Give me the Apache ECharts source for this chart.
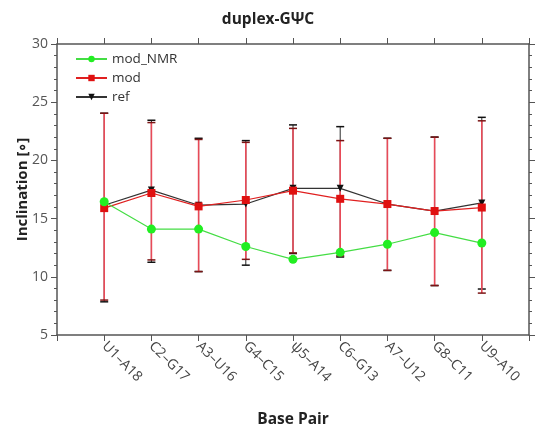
<!DOCTYPE html>
<html>
<head>
<meta charset="utf-8">
<script src="https://cdn.jsdelivr.net/npm/echarts@6/dist/echarts.min.js"></script>
<style>
  html, body { margin: 0; padding: 0; background: #fff; }
  #chart { width: 536px; height: 430px; }
</style>
</head>
<body>
<div id="chart"></div>
<script>
// Base pairs along the duplex
const categories = ['U1–A18', 'C2–G17', 'A3–U16', 'G4–C15', 'ψ5–A14', 'C6–G13', 'A7–U12', 'G8–C11', 'U9–A10'];

// Mean inclination per base pair (degrees)
const modNMR = [16.45, 14.1, 14.1, 12.6, 11.5, 12.1, 12.8, 13.8, 12.9];
const mod    = [15.9, 17.2, 16.05, 16.6, 17.4, 16.7, 16.25, 15.65, 15.95];
const ref    = [16.15, 17.45, 16.15, 16.25, 17.6, 17.6, 16.25, 15.65, 16.35];

// Spread (lower / upper bounds) for the simulated sets
const modLow  = [8.0, 11.45, 10.45, 11.5, 12.05, 11.8, 10.55, 9.25, 8.6];
const modHigh = [24.05, 23.25, 21.8, 21.55, 22.75, 21.7, 21.9, 22.0, 23.4];
const refLow  = [7.85, 11.25, 10.45, 11.0, 12.0, 11.7, 10.55, 9.25, 8.95];
const refHigh = [24.05, 23.45, 21.9, 21.7, 23.05, 22.9, 21.9, 22.0, 23.7];

// Y axis ticks
const yTicks = [5, 10, 15, 20, 25, 30];

// Padded category axis leaves half-open room at each end
const axisCats = [''].concat(categories, ['']);
const named = arr => arr.map((v, i) => [categories[i], v]);
const bars = (lo, hi) => lo.map((v, i) => [categories[i], v, hi[i]]);

function errorBar(lineColor, capColor, width) {
  return function (params, api) {
    const x = api.value(0);
    const lo = api.coord([x, api.value(1)]);
    const hi = api.coord([x, api.value(2)]);
    const half = 4;
    return {
      type: 'group',
      children: [
        { type: 'line', shape: { x1: lo[0], y1: lo[1], x2: hi[0], y2: hi[1] },
          style: { stroke: lineColor, lineWidth: width } },
        { type: 'line', shape: { x1: lo[0] - half, y1: lo[1], x2: lo[0] + half, y2: lo[1] },
          style: { stroke: capColor, lineWidth: 1.5 } },
        { type: 'line', shape: { x1: hi[0] - half, y1: hi[1], x2: hi[0] + half, y2: hi[1] },
          style: { stroke: capColor, lineWidth: 1.5 } }
      ]
    };
  };
}

const axisColor = '#555';
const labelFont = '"Open Sans", "Noto Sans", sans-serif';

const chart = echarts.init(document.getElementById('chart'), null, { renderer: 'canvas' });
chart.setOption({
  animation: false,
  backgroundColor: '#fff',
  textStyle: { fontFamily: labelFont },
  title: {
    text: 'duplex-GΨC',
    left: 'center',
    top: 7,
    textStyle: { fontSize: 15.5, fontWeight: 'bold', color: '#222', fontFamily: labelFont }
  },
  legend: {
    orient: 'vertical',
    left: 70,
    top: 47,
    itemGap: 5,
    itemWidth: 31,
    itemHeight: 8,
    data: ['mod_NMR', 'mod', 'ref'],
    textStyle: { fontSize: 13.5, color: '#333', fontFamily: labelFont }
  },
  grid: { left: 57, right: 7, top: 44, bottom: 95, containLabel: false, outerBoundsMode: 'none' },
  xAxis: [
    {
      type: 'category',
      data: axisCats,
      boundaryGap: false,
      position: 'bottom',
      name: 'Base Pair',
      nameLocation: 'middle',
      nameGap: 77,
      nameMoveOverlap: false,
      nameTextStyle: { fontSize: 15.5, fontWeight: 'bold', color: '#222', fontFamily: labelFont },
      axisLine: { lineStyle: { color: axisColor, width: 1.5 } },
      axisTick: { show: true, length: 6, alignWithLabel: true, interval: 0, lineStyle: { color: axisColor } },
      axisLabel: { rotate: -45, interval: 0, fontSize: 14, color: '#444', margin: 9, fontFamily: labelFont },
      splitLine: { show: false }
    },
    {
      type: 'category',
      data: axisCats,
      boundaryGap: false,
      position: 'top',
      axisLine: { lineStyle: { color: axisColor, width: 1.5 } },
      axisTick: { show: true, length: 6, interval: 0, lineStyle: { color: axisColor } },
      axisLabel: { show: false },
      splitLine: { show: false }
    }
  ],
  yAxis: [
    {
      type: 'value',
      min: yTicks[0],
      max: yTicks[yTicks.length - 1],
      interval: 5,
      position: 'left',
      name: 'Inclination [∘]',
      nameLocation: 'middle',
      nameGap: 27,
      nameMoveOverlap: false,
      nameTextStyle: { fontSize: 15, fontWeight: 'bold', color: '#222', fontFamily: labelFont },
      axisLine: { show: true, lineStyle: { color: axisColor, width: 1.5 } },
      axisTick: { show: true, length: 6, lineStyle: { color: axisColor } },
      minorTick: { show: true, splitNumber: 5, length: 3, lineStyle: { color: axisColor } },
      axisLabel: { fontSize: 14, color: '#555', margin: 9, fontFamily: labelFont },
      splitLine: { show: false }
    },
    {
      type: 'value',
      min: yTicks[0],
      max: yTicks[yTicks.length - 1],
      interval: 5,
      position: 'right',
      axisLine: { show: true, lineStyle: { color: axisColor, width: 1.5 } },
      axisTick: { show: true, length: 6, lineStyle: { color: axisColor } },
      minorTick: { show: true, splitNumber: 5, length: 3, lineStyle: { color: axisColor } },
      axisLabel: { show: false },
      splitLine: { show: false }
    }
  ],
  series: [
    {
      name: 'ref_err',
      type: 'custom',
      renderItem: errorBar('#2a2a2a', '#111', 1),
      data: bars(refLow, refHigh),
      encode: { x: 0, y: [1, 2] },
      z: 1,
      silent: true
    },
    {
      name: 'mod_err',
      type: 'custom',
      renderItem: errorBar('#e84a58', '#7a1414', 1.6),
      data: bars(modLow, modHigh),
      encode: { x: 0, y: [1, 2] },
      z: 2,
      silent: true
    },
    {
      name: 'ref',
      type: 'line',
      data: named(ref),
      symbol: 'triangle',
      symbolRotate: 180,
      symbolSize: 7,
      itemStyle: { color: '#111' },
      lineStyle: { color: '#333', width: 1.2 },
      z: 3
    },
    {
      name: 'mod',
      type: 'line',
      data: named(mod),
      symbol: 'rect',
      symbolSize: 8,
      itemStyle: { color: '#e01010' },
      lineStyle: { color: '#e02020', width: 1.2 },
      z: 4
    },
    {
      name: 'mod_NMR',
      type: 'line',
      data: named(modNMR),
      symbol: 'circle',
      symbolSize: 9,
      itemStyle: { color: '#22ee22' },
      lineStyle: { color: '#44dd44', width: 1.2 },
      z: 5
    }
  ]
});
</script>
</body>
</html>
